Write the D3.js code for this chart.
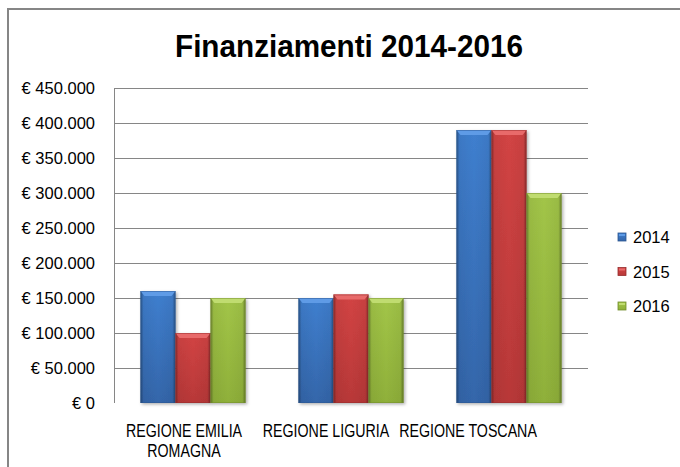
<!DOCTYPE html>
<html lang="it">
<head>
<meta charset="UTF-8">
<title>Finanziamenti 2014-2016</title>
<script src="https://cdnjs.cloudflare.com/ajax/libs/d3/7.8.5/d3.min.js"></script>
<style>
    body { margin: 0; background: #fff; }
    text { font-family: "Liberation Sans", Arial, sans-serif; fill: #000; }
</style>
</head>
<body>
<div id="wrapper"></div>
<script>
// data
const categories = ["REGIONE EMILIA ROMAGNA", "REGIONE LIGURIA", "REGIONE TOSCANA"];
const years = ["2014", "2015", "2016"];
const values2014 = [160000, 150000, 390000];
const values2015 = [100000, 155000, 390000];
const values2016 = [150000, 150000, 300000];
const yTicks = [0, 50000, 100000, 150000, 200000, 250000, 300000, 350000, 400000, 450000];

const series = [values2014, values2015, values2016];
// [top, main, bottom, edge]
const colors = [
    ["#5e9be6", "#3f7fcf", "#3466aa", "#2b5590"],
    ["#e86b6b", "#d24444", "#b83838", "#962c2c"],
    ["#c0dc70", "#a2c548", "#8fb03a", "#718c2c"]
];

const dims = {
    width: 680,
    height: 467,
    margin: { top: 88, right: 92, bottom: 64, left: 114 }
};
dims.boundedWidth = dims.width - dims.margin.left - dims.margin.right;
dims.boundedHeight = dims.height - dims.margin.top - dims.margin.bottom;

const svg = d3.select("#wrapper")
    .append("svg")
    .attr("width", dims.width)
    .attr("height", dims.height);

const defs = svg.append("defs");

colors.forEach((c, i) => {
    const g = defs.append("linearGradient")
        .attr("id", "fill-" + i)
        .attr("x1", 0).attr("y1", 0).attr("x2", 0).attr("y2", 1);
    g.append("stop").attr("offset", "0%").attr("stop-color", c[1]);
    g.append("stop").attr("offset", "100%").attr("stop-color", c[2]);
});

const edge = defs.append("linearGradient")
    .attr("id", "edge")
    .attr("x1", 0).attr("y1", 0).attr("x2", 1).attr("y2", 0);
[[0, 0.35], [0.09, 0.05], [0.5, 0], [0.91, 0.05], [1, 0.35]].forEach(s => {
    edge.append("stop")
        .attr("offset", s[0])
        .attr("stop-color", "#000")
        .attr("stop-opacity", s[1]);
});

const shadow = defs.append("filter")
    .attr("id", "shadow")
    .attr("x", "-20%").attr("y", "-10%")
    .attr("width", "140%").attr("height", "120%");
shadow.append("feDropShadow")
    .attr("dx", 1.5).attr("dy", 1.5)
    .attr("stdDeviation", 1.5)
    .attr("flood-color", "#000")
    .attr("flood-opacity", 0.3);

// chart frame
svg.append("rect")
    .attr("x", 8).attr("y", 9)
    .attr("width", 720).attr("height", 520)
    .attr("fill", "#fff")
    .attr("stroke", "#868686")
    .attr("stroke-width", 2);

svg.append("text")
    .attr("x", 349)
    .attr("y", 57)
    .attr("text-anchor", "middle")
    .attr("font-size", 32)
    .attr("font-weight", "bold")
    .attr("textLength", 348)
    .attr("lengthAdjust", "spacingAndGlyphs")
    .text("Finanziamenti 2014-2016");

const bounds = svg.append("g")
    .attr("transform", `translate(${dims.margin.left},${dims.margin.top})`);

const x = d3.scaleBand()
    .domain(categories)
    .range([0, dims.boundedWidth])
    .paddingInner(0.335)
    .paddingOuter(0.1675);

const xInner = d3.scaleBand()
    .domain(years)
    .range([0, x.bandwidth()]);

const y = d3.scaleLinear()
    .domain([0, 450000])
    .range([dims.boundedHeight, 0]);

const locale = d3.formatLocale({
    decimal: ",",
    thousands: ".",
    grouping: [3],
    currency: ["€ ", ""]
});
const fmt = locale.format("$,.0f");

// gridlines
bounds.append("g")
    .call(d3.axisLeft(y)
        .tickValues(yTicks.filter(d => d > 0))
        .tickSize(-dims.boundedWidth)
        .tickFormat(""))
    .call(g => g.select(".domain").remove())
    .call(g => g.selectAll("line")
        .attr("stroke", "#868686")
        .attr("shape-rendering", "crispEdges"));

// tick labels
bounds.append("g")
    .call(d3.axisLeft(y)
        .tickValues(yTicks)
        .tickSize(0)
        .tickPadding(19)
        .tickFormat(fmt))
    .call(g => g.select(".domain").remove())
    .call(g => g.selectAll("text")
        .attr("font-size", 16.5)
        .attr("font-family", "Liberation Sans, Arial, sans-serif")
        .attr("fill", "#000"));

bounds.append("line")
    .attr("x1", 0).attr("x2", 0)
    .attr("y1", 0).attr("y2", dims.boundedHeight)
    .attr("stroke", "#868686")
    .attr("shape-rendering", "crispEdges");

// bars
const groups = bounds.selectAll(".cat")
    .data(categories)
    .join("g")
    .attr("class", "cat")
    .attr("transform", d => `translate(${x(d)},0)`);

groups.each(function (cat, ci) {
    const g = d3.select(this);
    years.forEach((yr, si) => {
        const v = series[si][ci];
        const bx = xInner(yr);
        const bw = xInner.bandwidth();
        const by = y(v);
        const bh = dims.boundedHeight - by;
        const bar = g.append("g").attr("filter", "url(#shadow)");
        bar.append("rect")
            .attr("x", bx).attr("y", by)
            .attr("width", bw).attr("height", bh)
            .attr("fill", `url(#fill-${si})`);
        bar.append("rect")
            .attr("x", bx).attr("y", by)
            .attr("width", bw).attr("height", bh)
            .attr("fill", "url(#edge)");
        bar.append("path")
            .attr("d", `M${bx},${by}L${bx + bw},${by}L${bx + bw - 4},${by + 5}L${bx + 4},${by + 5}Z`)
            .attr("fill", colors[si][0]);
        bar.append("rect")
            .attr("x", bx + 0.5).attr("y", by + 0.5)
            .attr("width", bw - 1).attr("height", bh - 1)
            .attr("fill", "none")
            .attr("stroke", colors[si][3])
            .attr("stroke-opacity", 0.5);
    });
});

// category labels (Excel squeezes them slightly left)
const labelX = d3.scalePoint()
    .domain(categories)
    .range([184, 468]);

categories.forEach(cat => {
    const words = cat.split(" ");
    const lines = [words.slice(0, 2).join(" "), words.slice(2).join(" ")].filter(l => l);
    lines.forEach((line, li) => {
        svg.append("g")
            .attr("transform", `translate(${labelX(cat)},${437 + li * 19.5}) scale(0.79,1)`)
            .append("text")
            .attr("text-anchor", "middle")
            .attr("font-size", 18)
            .text(line);
    });
});

// legend
const legend = svg.append("g")
    .attr("transform", "translate(618,237)");

const items = legend.selectAll("g")
    .data(years)
    .join("g")
    .attr("transform", (d, i) => `translate(0,${i * 34.5})`);

items.append("rect")
    .attr("x", 0).attr("y", -4)
    .attr("width", 8).attr("height", 8)
    .attr("fill", (d, i) => `url(#fill-${i})`)
    .attr("stroke", (d, i) => colors[i][3])
    .attr("stroke-width", 0.8);

items.append("rect")
    .attr("x", 1).attr("y", -3)
    .attr("width", 6).attr("height", 2)
    .attr("fill", (d, i) => colors[i][0]);

items.append("text")
    .attr("x", 15)
    .attr("y", 6)
    .attr("font-size", 16.5)
    .text(d => d);
</script>
</body>
</html>
